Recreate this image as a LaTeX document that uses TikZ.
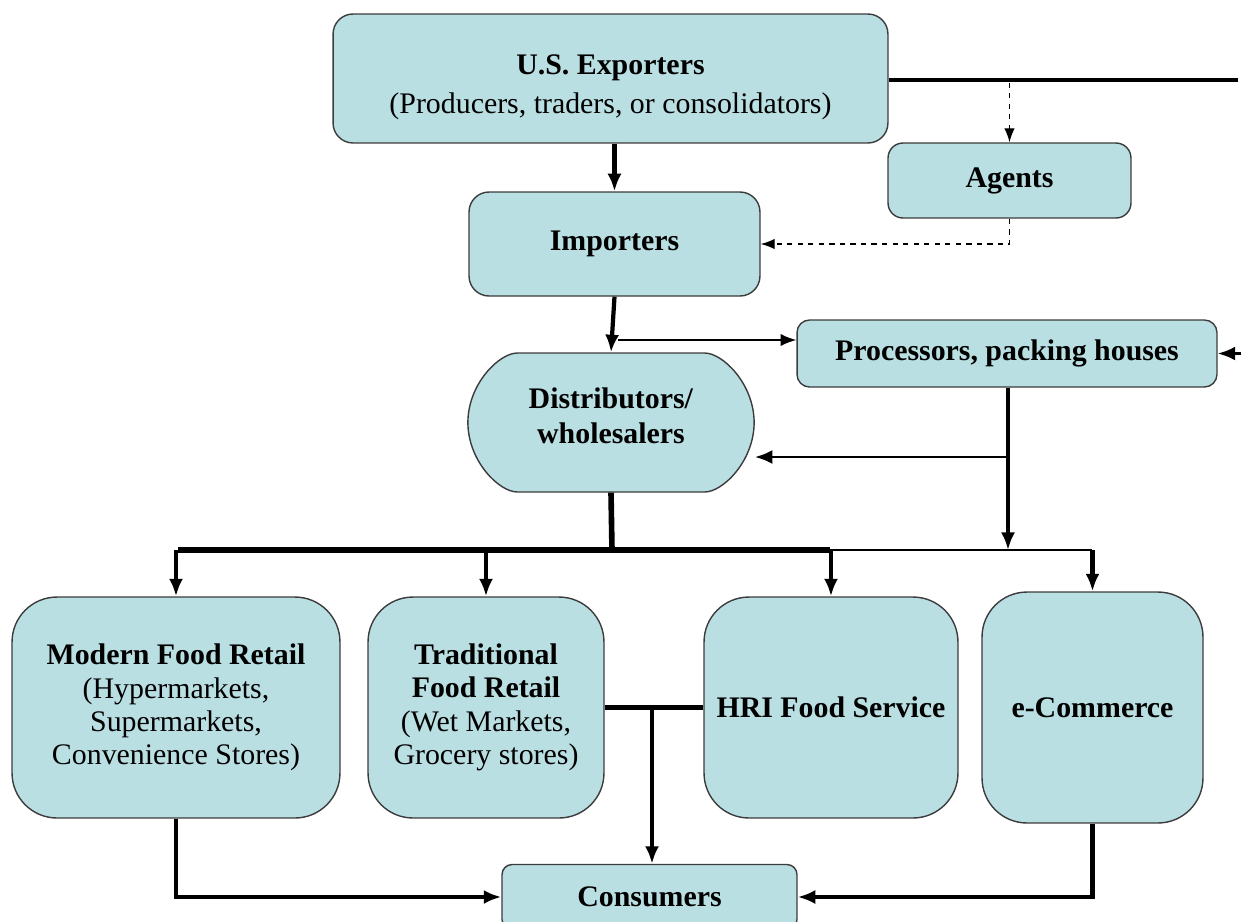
\documentclass[tikz,border=0pt]{standalone}
\usepackage{fontspec}
\setmainfont{Liberation Serif}
\usetikzlibrary{positioning}
\usetikzlibrary{shapes.misc}
\usetikzlibrary{arrows.meta}
\definecolor{boxfill}{RGB}{186,223,227}
\definecolor{boxline}{RGB}{60,60,60}

\begin{document}
\begin{tikzpicture}
      [
        x=0.02cm, y=-0.02cm,
        box/.style = {draw=boxline, fill=boxfill, rounded corners=0.4cm, align=center, font=\fontsize{17}{19}\selectfont, line width=0.8pt},
        flow/.style = {line width=2.4pt, -{Latex[length=10pt,width=8pt]}},
        thinflow/.style = {line width=0.9pt, -{Latex[length=9pt,width=7pt]}},
        agentflow/.style = {line width=0.8pt, dashed, -{Latex[length=8pt,width=6pt]}}
      ]

      \useasboundingbox (0,0) rectangle (1241,921);

      \node[box, minimum width=11.1cm, minimum height=2.58cm] (exp) at (610.5,78.5)
        {\rule{0pt}{21pt}\textbf{U.S. Exporters}\\[3pt](Producers, traders, or consolidators)};
      \node[box, minimum width=4.86cm, minimum height=1.5cm, rounded corners=0.3cm] (agents) at (1009.5,180.5) {\textbf{Agents}};
      \node[box, minimum width=5.82cm, minimum height=2.08cm] (imp) at (614.5,244) {\textbf{Importers}};
      \node[box, minimum width=8.4cm, minimum height=1.34cm, rounded corners=0.25cm] (proc) at (1007,353.5) {\textbf{Processors, packing houses}};
      \node[box, rounded rectangle, minimum width=5.96cm, minimum height=2.78cm] (dist) at (611,422.5)
        {\textbf{Distributors/}\\[1pt]\textbf{wholesalers}\rule[-8pt]{0pt}{8pt}};

      \node[box, minimum width=6.56cm, minimum height=4.42cm, rounded corners=0.9cm] (modern) at (176,707.5)
        {\textbf{Modern Food Retail}\\(Hypermarkets,\\Supermarkets,\\Convenience Stores)};
      \node[box, minimum width=4.72cm, minimum height=4.42cm, rounded corners=0.9cm] (trad) at (486,707.5)
        {\textbf{Traditional}\\\textbf{Food Retail}\\(Wet Markets,\\Grocery stores)};
      \node[box, minimum width=5.08cm, minimum height=4.42cm, rounded corners=0.9cm] (hri) at (831,707.5) {\textbf{HRI Food Service}};
      \node[box, minimum width=4.42cm, minimum height=4.62cm, rounded corners=0.9cm] (ecom) at (1092.5,707.5) {\textbf{e-Commerce}};
      \node[box, minimum width=5.9cm, minimum height=1.3cm, rounded corners=0.2cm] (cons) at (649.5,897) {\textbf{Consumers}};

      \coordinate (edge) at (1238,80);
      \coordinate (edgein) at (1241,353.5);
      \coordinate (bus) at (612,550);
      \coordinate (join) at (1008,550);

      \draw[flow] (exp.south -| imp) -- (imp.north);
      \draw[line width=2.4pt] (exp.east |- edge) -- (edge);
      \draw[agentflow] (exp.east -| agents) ++(0,4) -- (agents.north);
      \draw[agentflow] (agents.south) -- (agents.south |- 0,244) -- (imp.east |- 0,244);
      \draw[line width=1.6pt, -{Latex[length=10pt,width=8pt]}] (edgein) -- (proc.east);

      \draw[flow] (imp.south) -- (dist.north);
      \draw[thinflow] (618,340) -- (proc.west |- 0,340);

      \draw[flow] (proc.south -| join) -- (join);
      \draw[line width=1.6pt, -{Latex[length=10pt,width=8pt]}] (1008,457) -- (dist.east |- 0,457);

      \draw[line width=3.2pt] (dist.south) -- (bus);
      \draw[line width=3.2pt] (178,550) -- (830,550);
      \draw[line width=1.6pt] (830,550) -- (1092,550);
      \foreach \t in {modern,trad,hri,ecom}
        \draw[flow] (bus -| \t) -- (\t.north);

      \draw[line width=2.4pt] (trad.east) -- (hri.west);
      \draw[flow] (652,707) -- (cons.north -| 652,0);
      \draw[flow] (modern.south) |- (cons.west);
      \draw[flow] (ecom.south) |- (cons.east);

    \end{tikzpicture}
\end{document}
